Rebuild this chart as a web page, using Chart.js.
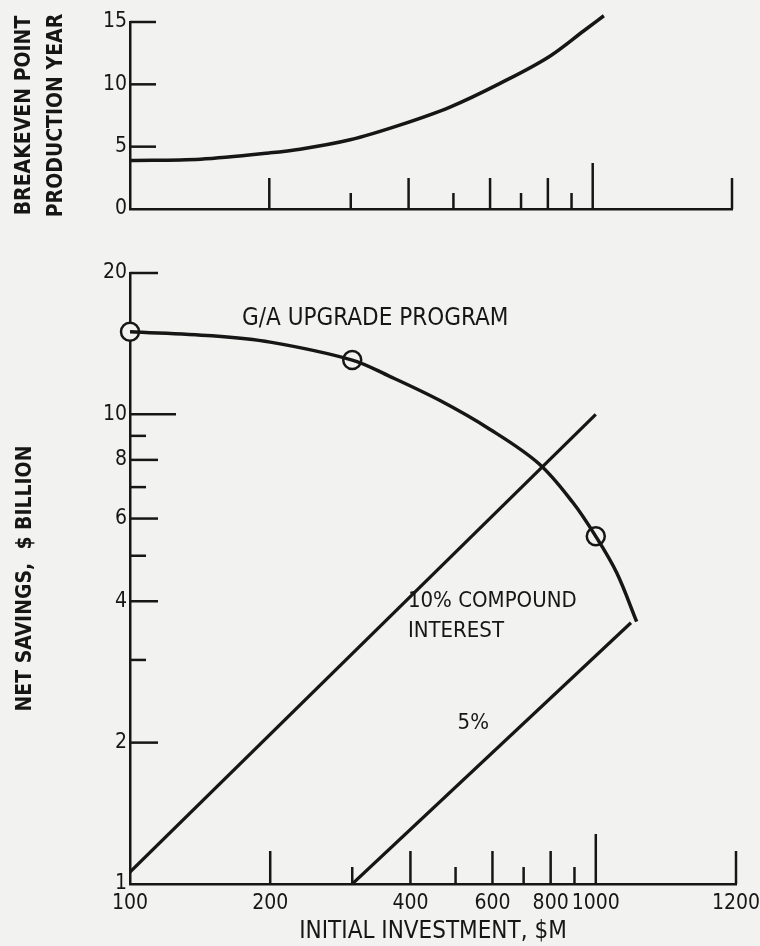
<!DOCTYPE html>
<html>
<head>
<meta charset="utf-8">
<title>G/A upgrade program - net savings</title>
<script src="https://cdn.jsdelivr.net/npm/chart.js@4.4.1/dist/chart.umd.min.js"></script>
<style>
  body { margin: 0; background: #f2f2f0; }
  #wrap { position: relative; width: 760px; height: 946px; }
  #topChart { position: absolute; left: 0; top: 0; }
  #bottomChart { position: absolute; left: 0; top: 240px; }
</style>
</head>
<body>
<div id="wrap">
  <canvas id="topChart" width="760" height="240"></canvas>
  <canvas id="bottomChart" width="760" height="706"></canvas>
</div>
<script>
// breakeven production year vs initial investment ($M)
var breakevenInvest = [100, 142, 200, 233, 299, 384, 493, 632, 811, 957, 1057];
var breakevenYear   = [3.9, 4.0, 4.5, 4.8, 5.55, 6.75, 8.2, 10.1, 12.3, 14.3, 15.5];

// G/A upgrade program net savings ($ billion)
var gaInvest  = [100, 150, 200, 300, 361, 463, 592, 754, 892, 1000, 1109, 1224];
var gaSavings = [15.0, 14.7, 14.25, 13.05, 12.05, 10.7, 9.3, 7.86, 6.5, 5.5, 4.6, 3.62];
var gaMarkInvest  = [100, 300, 1000];
var gaMarkSavings = [15.0, 13.05, 5.5];

// compound interest lines
var tenPctInvest   = [100, 1000];
var tenPctSavings  = [1.06, 10];
var fivePctInvest  = [300, 1190];
var fivePctSavings = [1.0, 3.6];

// axis ticks
var xTickValues  = [100, 200, 400, 600, 800, 1000, 2000];
var xTickLabels  = ['100', '200', '400', '600', '800', '1000', '1200'];
var xMinorValues = [300, 500, 700, 900];
var yearTicks = [0, 5, 10, 15];
var savingsTickValues  = [1, 2, 4, 6, 8, 10, 20];
var savingsMinorValues = [3, 5, 7, 9];

var ink = '#161616';
var paper = '#f2f2f0';
var narrow = "'DejaVu Sans Condensed', 'Liberation Sans Narrow', sans-serif";

function pairs(xs, ys) {
    return xs.map(function (x, i) { return { x: x, y: ys[i] }; });
}

// short tick marks drawn inside the plot, up from the x axis and right from the y axis
var innerTicks = {
    id: 'innerTicks',
    afterDraw: function (chart, args, opts) {
        var ctx = chart.ctx, area = chart.chartArea;
        var xs = chart.scales.x, ys = chart.scales.y;
        ctx.save();
        ctx.strokeStyle = ink;
        ctx.lineWidth = 2.5;
        opts.x.forEach(function (t) {
            var px = xs.getPixelForValue(t.value);
            ctx.beginPath();
            ctx.moveTo(px, area.bottom);
            ctx.lineTo(px, area.bottom - t.len);
            ctx.stroke();
        });
        opts.y.forEach(function (t) {
            var py = ys.getPixelForValue(t.value);
            ctx.beginPath();
            ctx.moveTo(area.left, py);
            ctx.lineTo(area.left + t.len, py);
            ctx.stroke();
        });
        ctx.restore();
    }
};

// curve labels placed at data coordinates
var notes = {
    id: 'notes',
    afterDraw: function (chart, args, opts) {
        var ctx = chart.ctx;
        var xs = chart.scales.x, ys = chart.scales.y;
        ctx.save();
        ctx.fillStyle = ink;
        ctx.textAlign = 'left';
        ctx.textBaseline = 'middle';
        opts.items.forEach(function (n) {
            ctx.font = n.size + 'px ' + narrow;
            ctx.fillText(n.text, xs.getPixelForValue(n.x), ys.getPixelForValue(n.y));
        });
        ctx.restore();
    }
};

function xMarks(major, minor, tall) {
    var marks = [];
    xTickValues.forEach(function (v) {
        if (v === 100) return;
        marks.push({ value: v, len: v === 1000 ? tall : major });
    });
    xMinorValues.forEach(function (v) { marks.push({ value: v, len: minor }); });
    return marks;
}

function xScale(showLabels, height) {
    return {
        type: 'logarithmic',
        min: 100,
        max: 2000,
        grid: { display: false, drawTicks: false },
        border: { display: true, color: ink, width: 2.5 },
        afterBuildTicks: function (s) {
            s.ticks = xTickValues.map(function (v) { return { value: v }; });
        },
        afterFit: function (s) {
            // end labels may hang past the plot, keep the axis full width
            s.height = height;
            s.paddingLeft = 0;
            s.paddingRight = 0;
        },
        ticks: {
            display: showLabels,
            autoSkip: false,
            maxRotation: 0,
            padding: 7,
            color: ink,
            font: { family: narrow, size: 21 },
            callback: function (value, index) { return xTickLabels[index]; }
        },
        title: {
            display: showLabels,
            text: 'INITIAL INVESTMENT, $M',
            color: ink,
            font: { family: narrow, size: 24, lineHeight: 1 },
            padding: { top: 0, bottom: 2 }
        }
    };
}

Chart.defaults.animation = false;

new Chart(document.getElementById('topChart'), {
    type: 'scatter',
    data: {
        datasets: [{
            data: pairs(breakevenInvest, breakevenYear),
            showLine: true,
            borderColor: ink,
            borderWidth: 3.5,
            pointRadius: 0,
            cubicInterpolationMode: 'monotone',
            clip: false
        }]
    },
    options: {
        responsive: false,
        layout: { padding: { left: 0, right: 28, top: 22, bottom: 0 } },
        plugins: {
            legend: { display: false },
            tooltip: { enabled: false },
            innerTicks: {
                x: xMarks(31, 16, 46),
                y: yearTicks.slice(1).map(function (v) { return { value: v, len: 26 }; })
            },
            notes: { items: [] }
        },
        scales: {
            x: xScale(false, 31),
            y: {
                min: 0,
                max: 15,
                grid: { display: false, drawTicks: false },
                border: { display: true, color: ink, width: 2.5 },
                afterBuildTicks: function (s) {
                    s.ticks = yearTicks.map(function (v) { return { value: v }; });
                },
                afterFit: function (s) { s.width = 130; },
                ticks: {
                    padding: 3,
                    color: ink,
                    font: { family: narrow, size: 21 }
                },
                title: {
                    display: true,
                    text: ['BREAKEVEN POINT', 'PRODUCTION YEAR'],
                    color: ink,
                    font: { family: narrow, size: 21, weight: 'bold', lineHeight: 1.52 },
                    padding: { top: 9, bottom: 0 }
                }
            }
        }
    },
    plugins: [innerTicks, notes]
});

var savingsMarks = savingsTickValues.slice(1).map(function (v) {
    return { value: v, len: v === 10 ? 46 : 28 };
}).concat(savingsMinorValues.map(function (v) { return { value: v, len: 16 }; }));

new Chart(document.getElementById('bottomChart'), {
    type: 'scatter',
    data: {
        datasets: [{
            data: pairs(gaInvest, gaSavings),
            showLine: true,
            borderColor: ink,
            borderWidth: 3.5,
            pointRadius: 0,
            tension: 0.35
        }, {
            data: pairs(tenPctInvest, tenPctSavings),
            showLine: true,
            borderColor: ink,
            borderWidth: 3.2,
            pointRadius: 0
        }, {
            data: pairs(fivePctInvest, fivePctSavings),
            showLine: true,
            borderColor: ink,
            borderWidth: 3.2,
            pointRadius: 0
        }, {
            data: pairs(gaMarkInvest, gaMarkSavings),
            showLine: false,
            pointStyle: 'circle',
            pointRadius: 9,
            pointBorderWidth: 2.5,
            pointBorderColor: ink,
            pointBackgroundColor: paper,
            clip: false
        }]
    },
    options: {
        responsive: false,
        layout: { padding: { left: 0, right: 24, top: 33, bottom: 0 } },
        plugins: {
            legend: { display: false },
            tooltip: { enabled: false },
            innerTicks: {
                x: xMarks(33, 17, 50),
                y: savingsMarks
            },
            notes: {
                items: [
                    { text: 'G/A UPGRADE PROGRAM', x: 174, y: 16.0, size: 24 },
                    { text: '10% COMPOUND', x: 395, y: 4.0, size: 22 },
                    { text: 'INTEREST', x: 395, y: 3.45, size: 22 },
                    { text: '5%', x: 505, y: 2.2, size: 22 }
                ]
            }
        },
        scales: {
            x: xScale(true, 62),
            y: {
                type: 'logarithmic',
                min: 1,
                max: 20,
                grid: { display: false, drawTicks: false },
                border: { display: true, color: ink, width: 2.5 },
                afterBuildTicks: function (s) {
                    s.ticks = savingsTickValues.map(function (v) { return { value: v }; });
                },
                afterFit: function (s) { s.width = 130; },
                ticks: {
                    autoSkip: false,
                    padding: 3,
                    color: ink,
                    font: { family: narrow, size: 21 },
                    callback: function (value) { return String(value); }
                },
                title: {
                    display: true,
                    text: 'NET SAVINGS,  $ BILLION',
                    color: ink,
                    font: { family: narrow, size: 21, weight: 'bold', lineHeight: 1.2 },
                    padding: { top: 13, bottom: 0 }
                }
            }
        }
    },
    plugins: [innerTicks, notes]
});
</script>
</body>
</html>
